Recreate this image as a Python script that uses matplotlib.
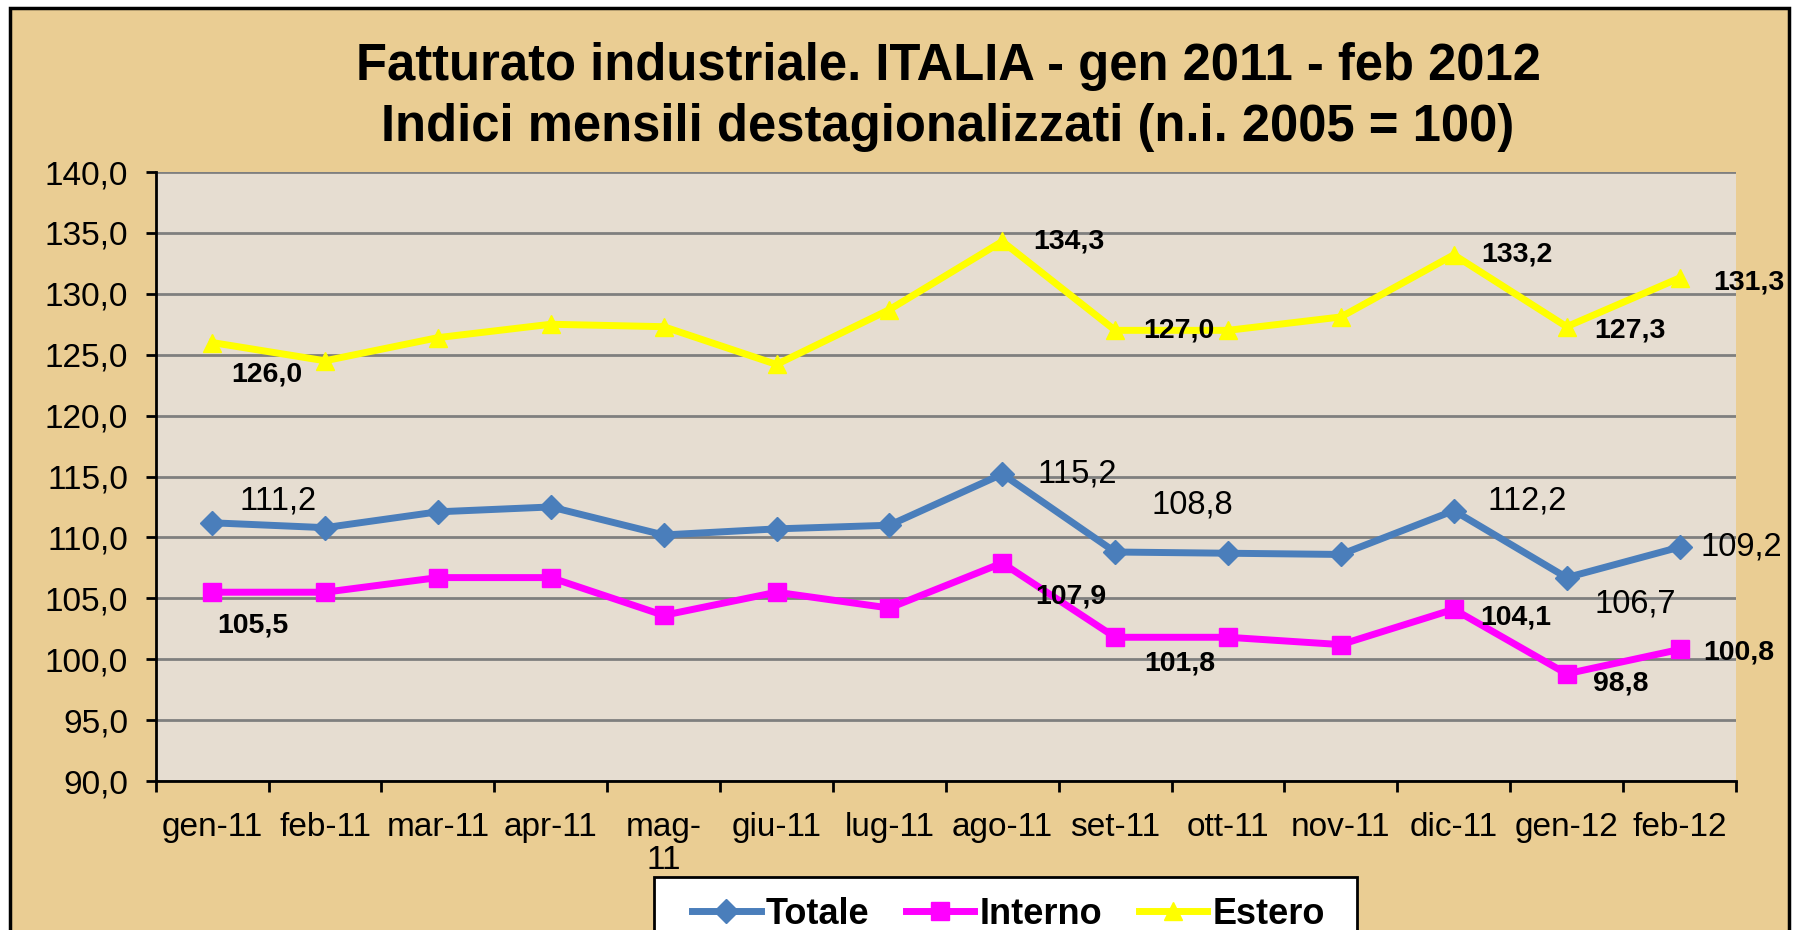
import matplotlib
matplotlib.use("Agg")
import matplotlib.pyplot as plt
from matplotlib.lines import Line2D
from matplotlib.patches import Rectangle
from matplotlib.ticker import FixedLocator, FuncFormatter

plt.rcParams['font.family'] = ['Liberation Sans', 'DejaVu Sans']

# data
mesi = ["gen-11", "feb-11", "mar-11", "apr-11", "mag-\n11", "giu-11", "lug-11",
        "ago-11", "set-11", "ott-11", "nov-11", "dic-11", "gen-12", "feb-12"]
totale = [111.2, 110.8, 112.1, 112.5, 110.2, 110.7, 111.0,
          115.2, 108.8, 108.7, 108.6, 112.2, 106.7, 109.2]
interno = [105.5, 105.5, 106.7, 106.7, 103.6, 105.5, 104.2,
           107.9, 101.8, 101.8, 101.2, 104.1, 98.8, 100.8]
estero = [126.0, 124.5, 126.4, 127.5, 127.3, 124.2, 128.7,
          134.3, 127.0, 127.0, 128.1, 133.2, 127.3, 131.3]
serie = ["Totale", "Interno", "Estero"]

# which points carry a label, and the offset (points) of the label
lab_totale = {0: (20, 16), 7: (25, 0), 8: (26, 34), 11: (24, 7), 12: (20, -19), 13: (15, 0)}
lab_interno = {0: (4, -24), 7: (24, -24), 8: (21, -19), 11: (19, -6), 12: (19, -7), 13: (17, -2)}
lab_estero = {0: (14, -23), 7: (22, 0), 8: (20, 0), 11: (20, 0), 12: (20, -3), 13: (24, -3)}

fig = plt.figure(figsize=(17.96, 9.30), dpi=100)
fig.patch.set_facecolor("white")

# papyrus-like backdrop with a thin black frame
fig.patches.append(Rectangle((10 / 1796, -0.1), 1779 / 1796, 1.1 - 8 / 930,
                             transform=fig.transFigure, facecolor="#EACD93",
                             edgecolor="black", linewidth=2.5, zorder=-10))

ax = fig.add_axes([155.7 / 1796, 1 - 781 / 930, (1736 - 155.7) / 1796, (781 - 172) / 930])
ax.set_facecolor("#E6DDD1")

x = list(range(len(mesi)))
ax.plot(x, totale, color="#4A7EBB", lw=5, marker="D", ms=12, zorder=3)
ax.plot(x, interno, color="#FF00FF", lw=5, marker="s", ms=13, zorder=3)
ax.plot(x, estero, color="#FFFF00", lw=5, marker="^", ms=13, zorder=3)

def fmt(v):
    return f"{v:.1f}".replace(".", ",")

for i, (dx, dy) in lab_totale.items():
    ax.annotate(fmt(totale[i]), (x[i], totale[i]), xytext=(dx, dy), textcoords="offset points",
                ha="left", va="center", fontsize=23.5, color="black", zorder=4,
                annotation_clip=False)
for i, (dx, dy) in lab_interno.items():
    ax.annotate(fmt(interno[i]), (x[i], interno[i]), xytext=(dx, dy), textcoords="offset points",
                ha="left", va="center", fontsize=20.5, fontweight="bold", color="black", zorder=4,
                annotation_clip=False)
for i, (dx, dy) in lab_estero.items():
    ax.annotate(fmt(estero[i]), (x[i], estero[i]), xytext=(dx, dy), textcoords="offset points",
                ha="left", va="center", fontsize=20.5, fontweight="bold", color="black", zorder=4,
                annotation_clip=False)

ax.set_xlim(-0.5, len(mesi) - 0.5)
ax.set_ylim(90, 140)
ax.set_yticks(range(90, 141, 5))
ax.yaxis.set_major_formatter(FuncFormatter(lambda v, p: fmt(v)))
ax.grid(axis="y", color="#7F7F7F", linewidth=2)
ax.set_axisbelow(True)

ax.xaxis.set_major_locator(FixedLocator([i - 0.5 for i in range(len(mesi) + 1)]))
ax.xaxis.set_major_formatter(FuncFormatter(lambda v, p: ""))
ax.xaxis.set_minor_locator(FixedLocator(x))
ax.set_xticklabels(mesi, minor=True)
ax.tick_params(axis="x", which="major", length=8, width=2, direction="out")
ax.tick_params(axis="x", which="minor", length=0, pad=22, labelsize=24)
ax.tick_params(axis="y", length=7, width=2, direction="out", pad=13, labelsize=24)
for lbl in ax.get_xticklabels(minor=True):
    lbl.set_verticalalignment("top")
    lbl.set_linespacing(1.1)

for side in ["top", "right"]:
    ax.spines[side].set_visible(False)
for side in ["left", "bottom"]:
    ax.spines[side].set_linewidth(2)
    ax.spines[side].set_color("black")

fig.text(948 / 1796, 1 - 97 / 930,
         "Fatturato industriale. ITALIA - gen 2011 - feb 2012\n"
         "Indici mensili destagionalizzati (n.i. 2005 = 100)",
         ha="center", va="center", fontsize=36.5, fontweight="bold", linespacing=1.3)

# legend box, cut by the lower edge like in the original
fig.patches.append(Rectangle((654 / 1796, -0.05), (1357 - 654) / 1796, 0.05 + 1 - 877 / 930,
                             transform=fig.transFigure, facecolor="white",
                             edgecolor="black", linewidth=2, zorder=5))
handles = [
    Line2D([], [], color="#4A7EBB", lw=5, marker="D", ms=12),
    Line2D([], [], color="#FF00FF", lw=5, marker="s", ms=13),
    Line2D([], [], color="#FFFF00", lw=5, marker="^", ms=13),
]
leg = fig.legend(handles, serie, loc="upper left",
                 bbox_to_anchor=(692 / 1796, 1 - 897 / 930), ncol=3, frameon=False,
                 borderaxespad=0, borderpad=0, handlelength=1.9, handletextpad=0.15,
                 columnspacing=1.0, prop={"size": 26, "weight": "bold"})
leg.set_zorder(6)

fig.savefig("out.png", dpi=100, facecolor=fig.get_facecolor())
